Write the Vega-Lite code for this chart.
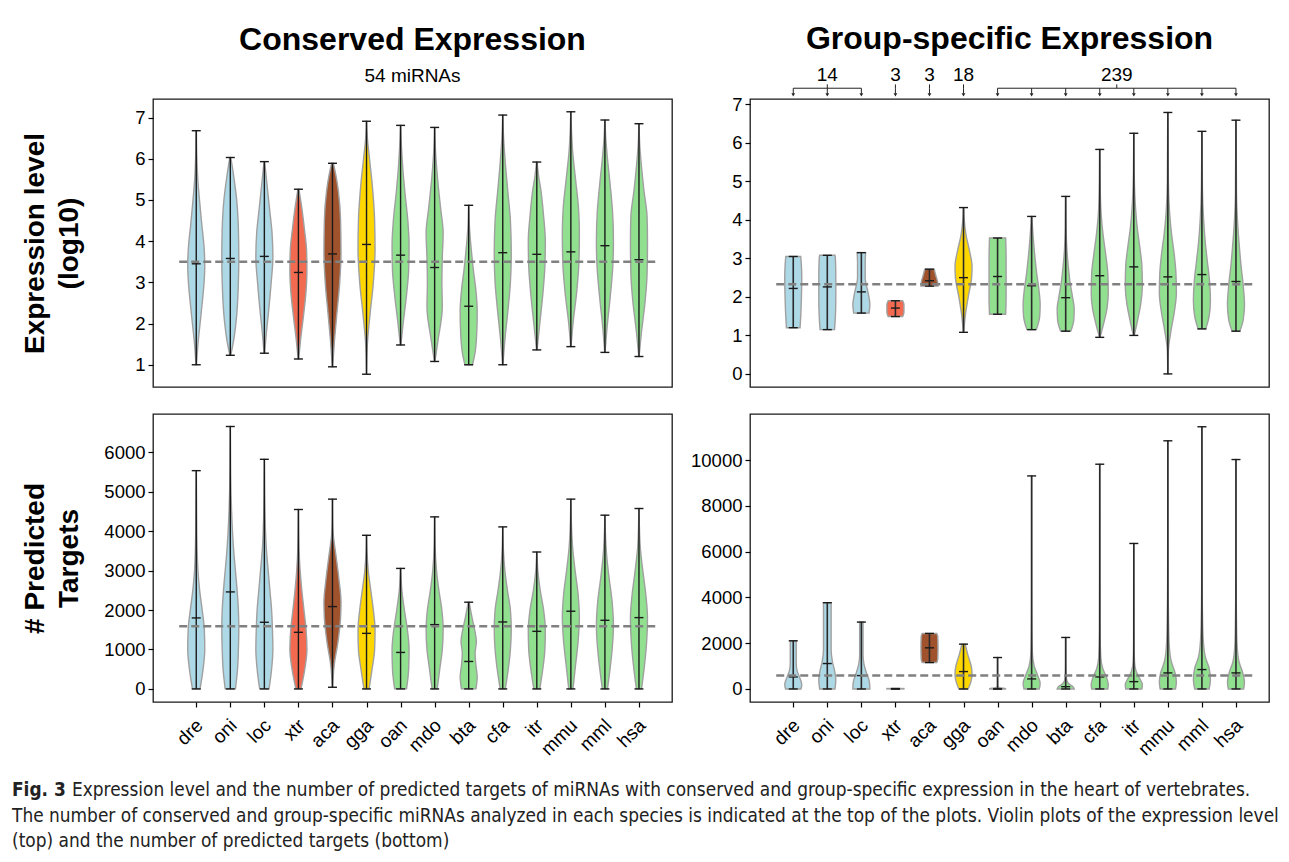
{
"$schema":"https://vega.github.io/schema/vega-lite/v6.json",
"padding":{"left":12,"top":22,"right":5,"bottom":0},
"background":"white",
"config":{
 "view":{"stroke":"#1a1a1a","strokeWidth":1.3},
 "font":"Liberation Sans",
 "axis":{"domain":false,"grid":false,"tickColor":"#000","tickSize":5,"tickWidth":1.2,"labelFont":"Liberation Sans","labelFontSize":18.5,"labelColor":"#000","labelPadding":3},
 "title":{"font":"Liberation Sans","fontSize":32,"fontWeight":"bold","color":"#000","subtitleFont":"Liberation Sans","subtitleFontSize":19,"subtitleColor":"#000","subtitlePadding":10,"offset":12,"anchor":"middle","frame":"group"}
},
"datasets":{
 "ref":[{"p":"TL","m":3.5},{"p":"TR","m":2.33},{"p":"BL","m":1587},{"p":"BR","m":585}],
 "ann":[{"t":"14","a":"dre","b":"loc"},{"t":"3","a":"xtr","b":"xtr"},{"t":"3","a":"aca","b":"aca"},{"t":"18","a":"gga","b":"gga"},{"t":"239","a":"oan","b":"hsa"}],
 "cap":[
  {"k":"b","ln":1,"t":"Fig. 3"},
  {"k":"r","ln":1,"t":"Expression level and the number of predicted targets of miRNAs with conserved and group-specific expression in the heart of vertebrates."},
  {"k":"n","ln":2,"t":"The number of conserved and group-specific miRNAs analyzed in each species is indicated at the top of the plots. Violin plots of the expression level"},
  {"k":"n","ln":3,"t":"(top) and the number of predicted targets (bottom)"}
 ],
 "st":[
  {"p":"TL","s":"dre","lo":1.0,"hi":6.68,"md":3.45},{"p":"TL","s":"oni","lo":1.23,"hi":6.03,"md":3.58},{"p":"TL","s":"loc","lo":1.28,"hi":5.93,"md":3.63},{"p":"TL","s":"xtr","lo":1.14,"hi":5.26,"md":3.24},{"p":"TL","s":"aca","lo":0.95,"hi":5.89,"md":3.69},{"p":"TL","s":"gga","lo":0.77,"hi":6.91,"md":3.92},{"p":"TL","s":"oan","lo":1.48,"hi":6.81,"md":3.66},{"p":"TL","s":"mdo","lo":1.08,"hi":6.76,"md":3.36},{"p":"TL","s":"bta","lo":1.0,"hi":4.87,"md":2.42},{"p":"TL","s":"cfa","lo":1.0,"hi":7.06,"md":3.72},{"p":"TL","s":"itr","lo":1.36,"hi":5.92,"md":3.68},{"p":"TL","s":"mmu","lo":1.44,"hi":7.14,"md":3.74},{"p":"TL","s":"mml","lo":1.3,"hi":6.94,"md":3.89},{"p":"TL","s":"hsa","lo":1.2,"hi":6.85,"md":3.55},
  {"p":"TR","s":"dre","lo":1.2,"hi":3.05,"md":2.22},{"p":"TR","s":"oni","lo":1.15,"hi":3.08,"md":2.26},{"p":"TR","s":"loc","lo":1.58,"hi":3.15,"md":2.13},{"p":"TR","s":"xtr","lo":1.49,"hi":1.9,"md":1.71},{"p":"TR","s":"aca","lo":2.28,"hi":2.72,"md":2.42},{"p":"TR","s":"gga","lo":1.08,"hi":4.32,"md":2.5},{"p":"TR","s":"oan","lo":1.55,"hi":3.53,"md":2.53},{"p":"TR","s":"mdo","lo":1.15,"hi":4.09,"md":2.29},{"p":"TR","s":"bta","lo":1.11,"hi":4.61,"md":1.98},{"p":"TR","s":"cfa","lo":0.95,"hi":5.83,"md":2.55},{"p":"TR","s":"itr","lo":1.0,"hi":6.25,"md":2.78},{"p":"TR","s":"mmu","lo":0.0,"hi":6.79,"md":2.52},{"p":"TR","s":"mml","lo":1.17,"hi":6.3,"md":2.58},{"p":"TR","s":"hsa","lo":1.11,"hi":6.59,"md":2.4},
  {"p":"BL","s":"dre","lo":0,"hi":5535,"md":1800},{"p":"BL","s":"oni","lo":0,"hi":6655,"md":2460},{"p":"BL","s":"loc","lo":0,"hi":5823,"md":1690},{"p":"BL","s":"xtr","lo":0,"hi":4550,"md":1435},{"p":"BL","s":"aca","lo":42,"hi":4813,"md":2088},{"p":"BL","s":"gga","lo":0,"hi":3896,"md":1409},{"p":"BL","s":"oan","lo":0,"hi":3056,"md":925},{"p":"BL","s":"mdo","lo":0,"hi":4363,"md":1630},{"p":"BL","s":"bta","lo":0,"hi":2199,"md":696},{"p":"BL","s":"cfa","lo":0,"hi":4109,"md":1698},{"p":"BL","s":"itr","lo":0,"hi":3472,"md":1460},{"p":"BL","s":"mmu","lo":0,"hi":4813,"md":1970},{"p":"BL","s":"mml","lo":0,"hi":4406,"md":1740},{"p":"BL","s":"hsa","lo":0,"hi":4575,"md":1808},
  {"p":"BR","s":"dre","lo":0,"hi":2105,"md":526},{"p":"BR","s":"oni","lo":0,"hi":3772,"md":1111},{"p":"BR","s":"loc","lo":0,"hi":2924,"md":585},{"p":"BR","s":"xtr","lo":0,"hi":20,"md":0},{"p":"BR","s":"aca","lo":1155,"hi":2427,"md":1798},{"p":"BR","s":"gga","lo":0,"hi":1959,"md":760},{"p":"BR","s":"oan","lo":0,"hi":1374,"md":0},{"p":"BR","s":"mdo","lo":0,"hi":9313,"md":439},{"p":"BR","s":"bta","lo":0,"hi":2251,"md":100},{"p":"BR","s":"cfa","lo":0,"hi":9825,"md":526},{"p":"BR","s":"itr","lo":0,"hi":6360,"md":320},{"p":"BR","s":"mmu","lo":0,"hi":10848,"md":702},{"p":"BR","s":"mml","lo":0,"hi":11462,"md":848},{"p":"BR","s":"hsa","lo":0,"hi":10029,"md":702}
 ],
 "vio":[
  {"p":"TL","s":"dre","y":[1.0,1.5,2.0,2.5,3.0,3.4,3.9,4.4,5.0,5.5,6.1,6.68],"w":[0.03,0.2,0.45,0.7,0.92,1.0,0.9,0.65,0.38,0.18,0.06,0.02]},
  {"p":"TL","s":"oni","y":[1.23,1.6,2.2,3.0,3.6,4.3,5.0,5.5,5.85,6.03],"w":[0.05,0.4,0.75,0.95,1.0,0.95,0.75,0.45,0.2,0.05]},
  {"p":"TL","s":"loc","y":[1.28,1.7,2.3,3.0,3.6,4.2,4.8,5.4,5.93],"w":[0.03,0.2,0.5,0.8,1.0,0.9,0.6,0.3,0.03]},
  {"p":"TL","s":"xtr","y":[1.14,1.6,2.2,2.8,3.3,3.8,4.3,4.8,5.26],"w":[0.03,0.25,0.6,0.9,1.0,0.95,0.7,0.4,0.05]},
  {"p":"TL","s":"aca","y":[0.95,1.5,2.2,3.0,3.7,4.5,5.2,5.6,5.89],"w":[0.02,0.2,0.5,0.85,1.0,0.95,0.7,0.4,0.1]},
  {"p":"TL","s":"gga","y":[0.77,1.5,2.2,3.0,3.8,4.5,5.3,6.0,6.5,6.91],"w":[0.01,0.1,0.4,0.8,1.0,0.95,0.7,0.35,0.1,0.01]},
  {"p":"TL","s":"oan","y":[1.48,2.0,2.7,3.3,3.9,4.5,5.2,5.8,6.3,6.81],"w":[0.03,0.3,0.7,0.95,1.0,0.85,0.5,0.25,0.1,0.01]},
  {"p":"TL","s":"mdo","y":[1.08,1.6,2.4,3.0,3.6,4.2,4.8,5.5,6.2,6.76],"w":[0.03,0.4,0.9,0.85,0.9,1.0,0.7,0.35,0.1,0.01]},
  {"p":"TL","s":"bta","y":[1.0,1.3,1.8,2.3,2.8,3.3,3.8,4.3,4.87],"w":[0.45,0.75,0.95,1.0,0.85,0.55,0.3,0.1,0.02]},
  {"p":"TL","s":"cfa","y":[1.0,1.6,2.3,3.0,3.7,4.5,5.2,5.9,6.5,7.06],"w":[0.02,0.25,0.6,0.9,1.0,0.9,0.6,0.3,0.1,0.01]},
  {"p":"TL","s":"itr","y":[1.36,2.0,2.7,3.4,4.0,4.6,5.2,5.6,5.92],"w":[0.03,0.35,0.7,0.95,1.0,0.8,0.5,0.2,0.03]},
  {"p":"TL","s":"mmu","y":[1.44,2.0,2.8,3.5,4.2,4.8,5.5,6.2,6.7,7.14],"w":[0.02,0.25,0.7,0.95,1.0,0.9,0.55,0.2,0.07,0.01]},
  {"p":"TL","s":"mml","y":[1.3,1.9,2.6,3.3,4.0,4.7,5.4,6.0,6.5,6.94],"w":[0.02,0.25,0.6,0.9,1.0,0.9,0.6,0.3,0.1,0.01]},
  {"p":"TL","s":"hsa","y":[1.2,1.8,2.5,3.2,4.0,4.6,5.2,5.8,6.3,6.85],"w":[0.02,0.3,0.7,0.95,1.0,0.95,0.6,0.3,0.1,0.01]},
  {"p":"TR","s":"dre","y":[1.2,1.5,2.0,2.5,2.8,3.05],"w":[0.8,0.88,0.96,1.0,0.96,0.88]},
  {"p":"TR","s":"oni","y":[1.15,1.5,2.0,2.5,3.0,3.08],"w":[0.85,0.95,1.0,1.0,0.95,0.9]},
  {"p":"TR","s":"loc","y":[1.58,1.8,2.1,2.5,2.9,3.15],"w":[0.9,1.0,0.8,0.45,0.45,0.5]},
  {"p":"TR","s":"xtr","y":[1.49,1.6,1.8,1.9],"w":[0.85,1.0,1.0,0.85]},
  {"p":"TR","s":"aca","y":[2.28,2.4,2.55,2.72],"w":[1.0,0.95,0.75,0.55]},
  {"p":"TR","s":"gga","y":[1.08,1.5,2.0,2.5,2.8,3.2,3.6,4.0,4.32],"w":[0.03,0.2,0.55,0.95,1.0,0.7,0.3,0.08,0.02]},
  {"p":"TR","s":"oan","y":[1.55,2.0,2.5,3.0,3.53],"w":[0.95,1.0,1.0,1.0,0.95]},
  {"p":"TR","s":"mdo","y":[1.15,1.5,1.8,2.2,2.6,3.0,3.5,4.09],"w":[0.55,0.95,1.0,0.85,0.6,0.4,0.2,0.02]},
  {"p":"TR","s":"bta","y":[1.11,1.4,1.7,2.0,2.4,2.8,3.2,3.8,4.61],"w":[0.6,0.95,1.0,0.8,0.5,0.3,0.15,0.04,0.01]},
  {"p":"TR","s":"cfa","y":[0.95,1.3,1.7,2.1,2.6,3.1,3.6,4.2,5.0,5.83],"w":[0.03,0.45,0.85,1.0,0.95,0.7,0.4,0.15,0.04,0.01]},
  {"p":"TR","s":"itr","y":[1.0,1.4,1.8,2.3,2.8,3.3,3.8,4.5,5.3,6.25],"w":[0.05,0.45,0.8,1.0,0.95,0.7,0.4,0.15,0.04,0.01]},
  {"p":"TR","s":"mmu","y":[0.0,0.6,1.1,1.6,2.1,2.6,3.1,3.6,4.2,5.0,6.79],"w":[0.01,0.06,0.35,0.75,1.0,0.95,0.75,0.45,0.2,0.06,0.01]},
  {"p":"TR","s":"mml","y":[1.17,1.5,1.9,2.4,2.9,3.4,4.0,4.8,6.3],"w":[0.45,0.85,1.0,0.9,0.65,0.4,0.2,0.06,0.01]},
  {"p":"TR","s":"hsa","y":[1.11,1.4,1.8,2.3,2.8,3.3,3.9,4.7,6.59],"w":[0.45,0.85,1.0,0.85,0.6,0.4,0.2,0.06,0.01]},
  {"p":"BL","s":"dre","y":[0,500,1000,1500,2000,2500,3000,4000,5535],"w":[0.45,0.8,1.0,0.95,0.7,0.4,0.2,0.06,0.01]},
  {"p":"BL","s":"oni","y":[0,500,1000,1500,2000,2500,3000,3500,4500,5500,6655],"w":[0.6,0.85,0.95,1.0,0.95,0.8,0.6,0.4,0.15,0.04,0.01]},
  {"p":"BL","s":"loc","y":[0,500,1000,1500,2000,2500,3000,3500,4500,5823],"w":[0.55,0.85,1.0,0.95,0.85,0.65,0.45,0.25,0.07,0.01]},
  {"p":"BL","s":"xtr","y":[0,500,1000,1500,2000,2500,3000,3500,4550],"w":[0.3,0.75,1.0,0.9,0.65,0.4,0.2,0.08,0.01]},
  {"p":"BL","s":"aca","y":[42,600,1200,1800,2200,2800,3400,3900,4300,4813],"w":[0.02,0.2,0.65,0.95,1.0,0.75,0.4,0.1,0.03,0.01]},
  {"p":"BL","s":"gga","y":[0,500,1000,1500,2000,2500,3000,3500,3896],"w":[0.3,0.65,0.95,1.0,0.8,0.5,0.2,0.05,0.01]},
  {"p":"BL","s":"oan","y":[0,500,1000,1500,2000,2500,3056],"w":[0.7,0.95,1.0,0.8,0.45,0.15,0.02]},
  {"p":"BL","s":"mdo","y":[0,500,1000,1500,2000,2500,3000,3600,4363],"w":[0.3,0.6,0.9,1.0,0.85,0.5,0.22,0.06,0.01]},
  {"p":"BL","s":"bta","y":[0,300,600,900,1200,1500,1800,2199],"w":[0.85,1.0,0.85,0.75,0.9,0.7,0.4,0.05]},
  {"p":"BL","s":"cfa","y":[0,500,1000,1500,2000,2500,3000,3500,4109],"w":[0.3,0.65,0.9,1.0,0.9,0.55,0.25,0.08,0.01]},
  {"p":"BL","s":"itr","y":[0,500,1000,1500,2000,2500,3000,3472],"w":[0.35,0.7,0.95,1.0,0.8,0.4,0.12,0.01]},
  {"p":"BL","s":"mmu","y":[0,600,1200,1800,2400,3000,3600,4200,4813],"w":[0.25,0.55,0.85,1.0,0.85,0.5,0.2,0.06,0.01]},
  {"p":"BL","s":"mml","y":[0,500,1000,1600,2200,2800,3400,4000,4406],"w":[0.3,0.6,0.85,1.0,0.85,0.5,0.2,0.05,0.01]},
  {"p":"BL","s":"hsa","y":[0,600,1200,1800,2400,3000,3600,4200,4575],"w":[0.3,0.65,0.9,1.0,0.8,0.45,0.15,0.04,0.01]},
  {"p":"BR","s":"dre","y":[0,200,500,800,1100,1500,2105],"w":[0.9,1.0,0.75,0.45,0.35,0.35,0.35]},
  {"p":"BR","s":"oni","y":[0,400,800,1200,1700,2500,3300,3772],"w":[0.9,1.0,0.85,0.6,0.45,0.45,0.45,0.45]},
  {"p":"BR","s":"loc","y":[0,300,700,1100,1500,2000,2924],"w":[1.0,0.95,0.6,0.3,0.2,0.2,0.2]},
  {"p":"BR","s":"xtr","y":[0,20],"w":[1.0,1.0]},
  {"p":"BR","s":"aca","y":[1155,1300,1800,2300,2427],"w":[0.85,0.97,1.0,0.97,0.85]},
  {"p":"BR","s":"gga","y":[0,300,600,900,1200,1500,1800,1959],"w":[0.55,0.85,1.0,0.95,0.75,0.5,0.3,0.2]},
  {"p":"BR","s":"oan","y":[0,30,80,150,1374],"w":[1.0,0.7,0.1,0.02,0.01]},
  {"p":"BR","s":"mdo","y":[0,250,600,1000,1500,2500,4000,9313],"w":[0.9,1.0,0.7,0.3,0.1,0.04,0.02,0.01]},
  {"p":"BR","s":"bta","y":[0,100,200,350,600,1000,2251],"w":[1.0,0.85,0.45,0.15,0.05,0.02,0.01]},
  {"p":"BR","s":"cfa","y":[0,200,500,900,1400,2500,5000,9825],"w":[0.95,1.0,0.8,0.35,0.12,0.04,0.02,0.01]},
  {"p":"BR","s":"itr","y":[0,200,450,800,1200,2000,6360],"w":[0.95,1.0,0.7,0.25,0.08,0.03,0.01]},
  {"p":"BR","s":"mmu","y":[0,300,700,1200,2000,3000,4000,6000,10848],"w":[0.9,1.0,0.85,0.4,0.15,0.08,0.04,0.02,0.01]},
  {"p":"BR","s":"mml","y":[0,400,900,1400,2200,3200,4500,7000,11462],"w":[0.85,1.0,0.85,0.4,0.15,0.07,0.03,0.015,0.01]},
  {"p":"BR","s":"hsa","y":[0,300,700,1200,2000,3000,4000,6000,10029],"w":[0.9,1.0,0.8,0.35,0.12,0.06,0.03,0.015,0.01]}
 ]
},
"vconcat":[
 {"vconcat":[
  {"hconcat":[
   {"width":519,"height":288,
    "title":{"text":"Conserved Expression","subtitle":"54 miRNAs"},
    "layer":[
     {"data":{"name":"vio"},"transform":[{"filter":"datum.p=='TL'"},{"flatten":["y","w"]},{"calculate":"indexof(['dre','oni','loc','xtr','aca','gga','oan','mdo','bta','cfa','itr','mmu','mml','hsa'],datum.s)","as":"i"},{"calculate":"datum.i-0.25*datum.w","as":"xl"},{"calculate":"datum.i+0.25*datum.w","as":"xr"}],
      "mark":{"type":"area","orient":"horizontal","interpolate":"monotone","stroke":"#a0a0a0","strokeWidth":1.4,"opacity":1},
      "encoding":{
       "y":{"field":"y","type":"quantitative","scale":{"domain":[0.46,7.45],"nice":false,"zero":false},"axis":{"values":[1,2,3,4,5,6,7],"format":"d","title":["Expression level","(log10)"],"titleFont":"Liberation Sans","titleFontSize":28,"titleFontWeight":"bold","titleColor":"#000","titleLineHeight":34,"titlePadding":20,"minExtent":50,"maxExtent":50}},
       "x":{"field":"xl","type":"quantitative","scale":{"domain":[-1.27,13.97],"nice":false,"zero":false},"axis":null},
       "x2":{"field":"xr"},
       "color":{"field":"s","type":"nominal","scale":{"domain":["dre","oni","loc","xtr","aca","gga","oan","mdo","bta","cfa","itr","mmu","mml","hsa"],"range":["#add8e6","#add8e6","#add8e6","#f26b50","#a0522d","#ffd700","#90e090","#90e090","#90e090","#90e090","#90e090","#90e090","#90e090","#90e090"]},"legend":null}
      }},
     {"data":{"name":"st"},"transform":[{"filter":"datum.p=='TL'"},{"calculate":"indexof(['dre','oni','loc','xtr','aca','gga','oan','mdo','bta','cfa','itr','mmu','mml','hsa'],datum.s)","as":"i"}],
      "mark":{"type":"rule","color":"#1a1a1a","strokeWidth":1.4},
      "encoding":{"x":{"field":"i","type":"quantitative","scale":{"domain":[-1.27,13.97],"nice":false,"zero":false},"axis":null},"y":{"field":"lo","type":"quantitative","scale":{"domain":[0.46,7.45],"nice":false,"zero":false},"axis":{"values":[1,2,3,4,5,6,7],"format":"d","title":["Expression level","(log10)"],"titleFont":"Liberation Sans","titleFontSize":28,"titleFontWeight":"bold","titleColor":"#000","titleLineHeight":34,"titlePadding":20,"minExtent":50,"maxExtent":50}},"y2":{"field":"hi"}}},
     {"data":{"name":"st"},"transform":[{"filter":"datum.p=='TL'"},{"calculate":"indexof(['dre','oni','loc','xtr','aca','gga','oan','mdo','bta','cfa','itr','mmu','mml','hsa'],datum.s)","as":"i"},{"fold":["lo","hi","md"],"as":["k","v"]}],
      "mark":{"type":"tick","orient":"horizontal","color":"#1a1a1a","thickness":1.4,"size":9,"opacity":1},
      "encoding":{"x":{"field":"i","type":"quantitative","scale":{"domain":[-1.27,13.97],"nice":false,"zero":false},"axis":null},"y":{"field":"v","type":"quantitative","scale":{"domain":[0.46,7.45],"nice":false,"zero":false},"axis":{"values":[1,2,3,4,5,6,7],"format":"d","title":["Expression level","(log10)"],"titleFont":"Liberation Sans","titleFontSize":28,"titleFontWeight":"bold","titleColor":"#000","titleLineHeight":34,"titlePadding":20,"minExtent":50,"maxExtent":50}}}},
     {"data":{"name":"ref"},"transform":[{"filter":"datum.p=='TL'"}],
      "mark":{"type":"rule","color":"#808080","strokeWidth":2.5,"strokeDash":[8,4]},
      "encoding":{"x":{"datum":-0.5,"type":"quantitative","scale":{"domain":[-1.27,13.97],"nice":false,"zero":false},"axis":null},"x2":{"datum":13.5},"y":{"field":"m","type":"quantitative","scale":{"domain":[0.46,7.45],"nice":false,"zero":false},"axis":{"values":[1,2,3,4,5,6,7],"format":"d","title":["Expression level","(log10)"],"titleFont":"Liberation Sans","titleFontSize":28,"titleFontWeight":"bold","titleColor":"#000","titleLineHeight":34,"titlePadding":20,"minExtent":50,"maxExtent":50}}}}
    ]},
   {"width":519,"height":288,
    "title":{"text":"Group-specific Expression","offset":10},
    "layer":[
     {"data":{"name":"vio"},"transform":[{"filter":"datum.p=='TR'"},{"flatten":["y","w"]},{"calculate":"indexof(['dre','oni','loc','xtr','aca','gga','oan','mdo','bta','cfa','itr','mmu','mml','hsa'],datum.s)","as":"i"},{"calculate":"datum.i-0.25*datum.w","as":"xl"},{"calculate":"datum.i+0.25*datum.w","as":"xr"}],
      "mark":{"type":"area","orient":"horizontal","interpolate":"monotone","stroke":"#a0a0a0","strokeWidth":1.4,"opacity":1},
      "encoding":{
       "y":{"field":"y","type":"quantitative","scale":{"domain":[-0.34,7.14],"nice":false,"zero":false},"axis":{"values":[0,1,2,3,4,5,6,7],"format":"d","title":null,"minExtent":60,"maxExtent":60}},
       "x":{"field":"xl","type":"quantitative","scale":{"domain":[-1.27,13.97],"nice":false,"zero":false},"axis":null},
       "x2":{"field":"xr"},
       "color":{"field":"s","type":"nominal","scale":{"domain":["dre","oni","loc","xtr","aca","gga","oan","mdo","bta","cfa","itr","mmu","mml","hsa"],"range":["#add8e6","#add8e6","#add8e6","#f26b50","#a0522d","#ffd700","#90e090","#90e090","#90e090","#90e090","#90e090","#90e090","#90e090","#90e090"]},"legend":null}
      }},
     {"data":{"name":"st"},"transform":[{"filter":"datum.p=='TR'"},{"calculate":"indexof(['dre','oni','loc','xtr','aca','gga','oan','mdo','bta','cfa','itr','mmu','mml','hsa'],datum.s)","as":"i"}],
      "mark":{"type":"rule","color":"#2a2a2a","strokeWidth":1.6},
      "encoding":{"x":{"field":"i","type":"quantitative","scale":{"domain":[-1.27,13.97],"nice":false,"zero":false},"axis":null},"y":{"field":"lo","type":"quantitative","scale":{"domain":[-0.34,7.14],"nice":false,"zero":false},"axis":{"values":[0,1,2,3,4,5,6,7],"format":"d","title":null,"minExtent":60,"maxExtent":60}},"y2":{"field":"hi"}}},
     {"data":{"name":"st"},"transform":[{"filter":"datum.p=='TR'"},{"calculate":"indexof(['dre','oni','loc','xtr','aca','gga','oan','mdo','bta','cfa','itr','mmu','mml','hsa'],datum.s)","as":"i"},{"fold":["lo","hi","md"],"as":["k","v"]}],
      "mark":{"type":"tick","orient":"horizontal","color":"#1a1a1a","thickness":1.4,"size":9,"opacity":1},
      "encoding":{"x":{"field":"i","type":"quantitative","scale":{"domain":[-1.27,13.97],"nice":false,"zero":false},"axis":null},"y":{"field":"v","type":"quantitative","scale":{"domain":[-0.34,7.14],"nice":false,"zero":false},"axis":{"values":[0,1,2,3,4,5,6,7],"format":"d","title":null,"minExtent":60,"maxExtent":60}}}},
     {"data":{"name":"ref"},"transform":[{"filter":"datum.p=='TR'"}],
      "mark":{"type":"rule","color":"#808080","strokeWidth":2.5,"strokeDash":[8,4]},
      "encoding":{"x":{"datum":-0.5,"type":"quantitative","scale":{"domain":[-1.27,13.97],"nice":false,"zero":false},"axis":null},"x2":{"datum":13.5},"y":{"field":"m","type":"quantitative","scale":{"domain":[-0.34,7.14],"nice":false,"zero":false},"axis":{"values":[0,1,2,3,4,5,6,7],"format":"d","title":null,"minExtent":60,"maxExtent":60}}}},
     {"data":{"name":"ann"},"transform":[{"calculate":"indexof(['dre','oni','loc','xtr','aca','gga','oan','mdo','bta','cfa','itr','mmu','mml','hsa'],datum.a)","as":"ia"},{"calculate":"indexof(['dre','oni','loc','xtr','aca','gga','oan','mdo','bta','cfa','itr','mmu','mml','hsa'],datum.b)","as":"ib"},{"calculate":"(datum.ia+datum.ib)/2","as":"ic"}],
      "layer":[
       {"mark":{"type":"text","fontSize":19,"font":"Liberation Sans","baseline":"middle","align":"center","color":"#000"},
        "encoding":{"x":{"field":"ic","type":"quantitative","scale":{"domain":[-1.27,13.97],"nice":false,"zero":false},"axis":null},"y":{"datum":7.76,"type":"quantitative","scale":{"domain":[-0.34,7.14],"nice":false,"zero":false},"axis":{"values":[0,1,2,3,4,5,6,7],"format":"d","title":null,"minExtent":60,"maxExtent":60}},"text":{"field":"t"}}},
       {"mark":{"type":"rule","color":"#222","strokeWidth":1},
        "encoding":{"x":{"field":"ia","type":"quantitative","scale":{"domain":[-1.27,13.97],"nice":false,"zero":false},"axis":null},"x2":{"field":"ib"},"y":{"datum":7.42,"type":"quantitative","scale":{"domain":[-0.34,7.14],"nice":false,"zero":false},"axis":{"values":[0,1,2,3,4,5,6,7],"format":"d","title":null,"minExtent":60,"maxExtent":60}}}},
       {"mark":{"type":"rule","color":"#222","strokeWidth":1},
        "encoding":{"x":{"field":"ic","type":"quantitative","scale":{"domain":[-1.27,13.97],"nice":false,"zero":false},"axis":null},"y":{"datum":7.52,"type":"quantitative","scale":{"domain":[-0.34,7.14],"nice":false,"zero":false},"axis":{"values":[0,1,2,3,4,5,6,7],"format":"d","title":null,"minExtent":60,"maxExtent":60}},"y2":{"datum":7.42}}}
      ]},
     {"data":{"name":"st"},"transform":[{"filter":"datum.p=='TR'"},{"calculate":"indexof(['dre','oni','loc','xtr','aca','gga','oan','mdo','bta','cfa','itr','mmu','mml','hsa'],datum.s)","as":"i"}],
      "layer":[
       {"mark":{"type":"rule","color":"#222","strokeWidth":1},
        "encoding":{"x":{"field":"i","type":"quantitative","scale":{"domain":[-1.27,13.97],"nice":false,"zero":false},"axis":null},"y":{"datum":7.42,"type":"quantitative","scale":{"domain":[-0.34,7.14],"nice":false,"zero":false},"axis":{"values":[0,1,2,3,4,5,6,7],"format":"d","title":null,"minExtent":60,"maxExtent":60}},"y2":{"datum":7.28}}},
       {"mark":{"type":"point","shape":"triangle-down","filled":true,"size":14,"color":"#222","opacity":1},
        "encoding":{"x":{"field":"i","type":"quantitative","scale":{"domain":[-1.27,13.97],"nice":false,"zero":false},"axis":null},"y":{"datum":7.25,"type":"quantitative","scale":{"domain":[-0.34,7.14],"nice":false,"zero":false},"axis":{"values":[0,1,2,3,4,5,6,7],"format":"d","title":null,"minExtent":60,"maxExtent":60}}}}
      ]}
    ]}
  ],"spacing":16},
  {"hconcat":[
   {"width":519,"height":288,
    "layer":[
     {"data":{"name":"vio"},"transform":[{"filter":"datum.p=='BL'"},{"flatten":["y","w"]},{"calculate":"indexof(['dre','oni','loc','xtr','aca','gga','oan','mdo','bta','cfa','itr','mmu','mml','hsa'],datum.s)","as":"i"},{"calculate":"datum.i-0.25*datum.w","as":"xl"},{"calculate":"datum.i+0.25*datum.w","as":"xr"}],
      "mark":{"type":"area","orient":"horizontal","interpolate":"monotone","stroke":"#a0a0a0","strokeWidth":1.4,"opacity":1},
      "encoding":{
       "y":{"field":"y","type":"quantitative","scale":{"domain":[-332,6972],"nice":false,"zero":false},"axis":{"values":[0,1000,2000,3000,4000,5000,6000],"format":"d","title":["# Predicted","Targets"],"titleFont":"Liberation Sans","titleFontSize":28,"titleFontWeight":"bold","titleColor":"#000","titleLineHeight":34,"titlePadding":20,"minExtent":50,"maxExtent":50}},
       "x":{"field":"xl","type":"quantitative","scale":{"domain":[-1.27,13.97],"nice":false,"zero":false},"axis":{"values":[0,1,2,3,4,5,6,7,8,9,10,11,12,13],"labelExpr":"['dre','oni','loc','xtr','aca','gga','oan','mdo','bta','cfa','itr','mmu','mml','hsa'][datum.value]","labelAngle":-45,"labelAlign":"right","labelBaseline":"middle","labelPadding":15,"labelOffset":3,"labelFontSize":19,"title":null,"labelOverlap":false,"labelBound":false,"labelFlush":false}},
       "x2":{"field":"xr"},
       "color":{"field":"s","type":"nominal","scale":{"domain":["dre","oni","loc","xtr","aca","gga","oan","mdo","bta","cfa","itr","mmu","mml","hsa"],"range":["#add8e6","#add8e6","#add8e6","#f26b50","#a0522d","#ffd700","#90e090","#90e090","#90e090","#90e090","#90e090","#90e090","#90e090","#90e090"]},"legend":null}
      }},
     {"data":{"name":"st"},"transform":[{"filter":"datum.p=='BL'"},{"calculate":"indexof(['dre','oni','loc','xtr','aca','gga','oan','mdo','bta','cfa','itr','mmu','mml','hsa'],datum.s)","as":"i"}],
      "mark":{"type":"rule","color":"#1a1a1a","strokeWidth":1.4},
      "encoding":{"x":{"field":"i","type":"quantitative","scale":{"domain":[-1.27,13.97],"nice":false,"zero":false},"axis":{"values":[0,1,2,3,4,5,6,7,8,9,10,11,12,13],"labelExpr":"['dre','oni','loc','xtr','aca','gga','oan','mdo','bta','cfa','itr','mmu','mml','hsa'][datum.value]","labelAngle":-45,"labelAlign":"right","labelBaseline":"middle","labelPadding":15,"labelOffset":3,"labelFontSize":19,"title":null,"labelOverlap":false,"labelBound":false,"labelFlush":false}},"y":{"field":"lo","type":"quantitative","scale":{"domain":[-332,6972],"nice":false,"zero":false},"axis":{"values":[0,1000,2000,3000,4000,5000,6000],"format":"d","title":["# Predicted","Targets"],"titleFont":"Liberation Sans","titleFontSize":28,"titleFontWeight":"bold","titleColor":"#000","titleLineHeight":34,"titlePadding":20,"minExtent":50,"maxExtent":50}},"y2":{"field":"hi"}}},
     {"data":{"name":"st"},"transform":[{"filter":"datum.p=='BL'"},{"calculate":"indexof(['dre','oni','loc','xtr','aca','gga','oan','mdo','bta','cfa','itr','mmu','mml','hsa'],datum.s)","as":"i"},{"fold":["lo","hi","md"],"as":["k","v"]}],
      "mark":{"type":"tick","orient":"horizontal","color":"#1a1a1a","thickness":1.4,"size":9,"opacity":1},
      "encoding":{"x":{"field":"i","type":"quantitative","scale":{"domain":[-1.27,13.97],"nice":false,"zero":false},"axis":{"values":[0,1,2,3,4,5,6,7,8,9,10,11,12,13],"labelExpr":"['dre','oni','loc','xtr','aca','gga','oan','mdo','bta','cfa','itr','mmu','mml','hsa'][datum.value]","labelAngle":-45,"labelAlign":"right","labelBaseline":"middle","labelPadding":15,"labelOffset":3,"labelFontSize":19,"title":null,"labelOverlap":false,"labelBound":false,"labelFlush":false}},"y":{"field":"v","type":"quantitative","scale":{"domain":[-332,6972],"nice":false,"zero":false},"axis":{"values":[0,1000,2000,3000,4000,5000,6000],"format":"d","title":["# Predicted","Targets"],"titleFont":"Liberation Sans","titleFontSize":28,"titleFontWeight":"bold","titleColor":"#000","titleLineHeight":34,"titlePadding":20,"minExtent":50,"maxExtent":50}}}},
     {"data":{"name":"ref"},"transform":[{"filter":"datum.p=='BL'"}],
      "mark":{"type":"rule","color":"#808080","strokeWidth":2.5,"strokeDash":[8,4]},
      "encoding":{"x":{"datum":-0.5,"type":"quantitative","scale":{"domain":[-1.27,13.97],"nice":false,"zero":false},"axis":{"values":[0,1,2,3,4,5,6,7,8,9,10,11,12,13],"labelExpr":"['dre','oni','loc','xtr','aca','gga','oan','mdo','bta','cfa','itr','mmu','mml','hsa'][datum.value]","labelAngle":-45,"labelAlign":"right","labelBaseline":"middle","labelPadding":15,"labelOffset":3,"labelFontSize":19,"title":null,"labelOverlap":false,"labelBound":false,"labelFlush":false}},"x2":{"datum":13.5},"y":{"field":"m","type":"quantitative","scale":{"domain":[-332,6972],"nice":false,"zero":false},"axis":{"values":[0,1000,2000,3000,4000,5000,6000],"format":"d","title":["# Predicted","Targets"],"titleFont":"Liberation Sans","titleFontSize":28,"titleFontWeight":"bold","titleColor":"#000","titleLineHeight":34,"titlePadding":20,"minExtent":50,"maxExtent":50}}}}
    ]},
   {"width":519,"height":288,
    "layer":[
     {"data":{"name":"vio"},"transform":[{"filter":"datum.p=='BR'"},{"flatten":["y","w"]},{"calculate":"indexof(['dre','oni','loc','xtr','aca','gga','oan','mdo','bta','cfa','itr','mmu','mml','hsa'],datum.s)","as":"i"},{"calculate":"datum.i-0.25*datum.w","as":"xl"},{"calculate":"datum.i+0.25*datum.w","as":"xr"}],
      "mark":{"type":"area","orient":"horizontal","interpolate":"monotone","stroke":"#a0a0a0","strokeWidth":1.4,"opacity":1},
      "encoding":{
       "y":{"field":"y","type":"quantitative","scale":{"domain":[-570,12020],"nice":false,"zero":false},"axis":{"values":[0,2000,4000,6000,8000,10000],"format":"d","title":null,"minExtent":60,"maxExtent":60}},
       "x":{"field":"xl","type":"quantitative","scale":{"domain":[-1.27,13.97],"nice":false,"zero":false},"axis":{"values":[0,1,2,3,4,5,6,7,8,9,10,11,12,13],"labelExpr":"['dre','oni','loc','xtr','aca','gga','oan','mdo','bta','cfa','itr','mmu','mml','hsa'][datum.value]","labelAngle":-45,"labelAlign":"right","labelBaseline":"middle","labelPadding":15,"labelOffset":3,"labelFontSize":19,"title":null,"labelOverlap":false,"labelBound":false,"labelFlush":false}},
       "x2":{"field":"xr"},
       "color":{"field":"s","type":"nominal","scale":{"domain":["dre","oni","loc","xtr","aca","gga","oan","mdo","bta","cfa","itr","mmu","mml","hsa"],"range":["#add8e6","#add8e6","#add8e6","#f26b50","#a0522d","#ffd700","#90e090","#90e090","#90e090","#90e090","#90e090","#90e090","#90e090","#90e090"]},"legend":null}
      }},
     {"data":{"name":"st"},"transform":[{"filter":"datum.p=='BR'"},{"calculate":"indexof(['dre','oni','loc','xtr','aca','gga','oan','mdo','bta','cfa','itr','mmu','mml','hsa'],datum.s)","as":"i"}],
      "mark":{"type":"rule","color":"#2a2a2a","strokeWidth":1.6},
      "encoding":{"x":{"field":"i","type":"quantitative","scale":{"domain":[-1.27,13.97],"nice":false,"zero":false},"axis":{"values":[0,1,2,3,4,5,6,7,8,9,10,11,12,13],"labelExpr":"['dre','oni','loc','xtr','aca','gga','oan','mdo','bta','cfa','itr','mmu','mml','hsa'][datum.value]","labelAngle":-45,"labelAlign":"right","labelBaseline":"middle","labelPadding":15,"labelOffset":3,"labelFontSize":19,"title":null,"labelOverlap":false,"labelBound":false,"labelFlush":false}},"y":{"field":"lo","type":"quantitative","scale":{"domain":[-570,12020],"nice":false,"zero":false},"axis":{"values":[0,2000,4000,6000,8000,10000],"format":"d","title":null,"minExtent":60,"maxExtent":60}},"y2":{"field":"hi"}}},
     {"data":{"name":"st"},"transform":[{"filter":"datum.p=='BR'"},{"calculate":"indexof(['dre','oni','loc','xtr','aca','gga','oan','mdo','bta','cfa','itr','mmu','mml','hsa'],datum.s)","as":"i"},{"fold":["lo","hi","md"],"as":["k","v"]}],
      "mark":{"type":"tick","orient":"horizontal","color":"#1a1a1a","thickness":1.4,"size":9,"opacity":1},
      "encoding":{"x":{"field":"i","type":"quantitative","scale":{"domain":[-1.27,13.97],"nice":false,"zero":false},"axis":{"values":[0,1,2,3,4,5,6,7,8,9,10,11,12,13],"labelExpr":"['dre','oni','loc','xtr','aca','gga','oan','mdo','bta','cfa','itr','mmu','mml','hsa'][datum.value]","labelAngle":-45,"labelAlign":"right","labelBaseline":"middle","labelPadding":15,"labelOffset":3,"labelFontSize":19,"title":null,"labelOverlap":false,"labelBound":false,"labelFlush":false}},"y":{"field":"v","type":"quantitative","scale":{"domain":[-570,12020],"nice":false,"zero":false},"axis":{"values":[0,2000,4000,6000,8000,10000],"format":"d","title":null,"minExtent":60,"maxExtent":60}}}},
     {"data":{"name":"ref"},"transform":[{"filter":"datum.p=='BR'"}],
      "mark":{"type":"rule","color":"#808080","strokeWidth":2.5,"strokeDash":[8,4]},
      "encoding":{"x":{"datum":-0.5,"type":"quantitative","scale":{"domain":[-1.27,13.97],"nice":false,"zero":false},"axis":{"values":[0,1,2,3,4,5,6,7,8,9,10,11,12,13],"labelExpr":"['dre','oni','loc','xtr','aca','gga','oan','mdo','bta','cfa','itr','mmu','mml','hsa'][datum.value]","labelAngle":-45,"labelAlign":"right","labelBaseline":"middle","labelPadding":15,"labelOffset":3,"labelFontSize":19,"title":null,"labelOverlap":false,"labelBound":false,"labelFlush":false}},"x2":{"datum":13.5},"y":{"field":"m","type":"quantitative","scale":{"domain":[-570,12020],"nice":false,"zero":false},"axis":{"values":[0,2000,4000,6000,8000,10000],"format":"d","title":null,"minExtent":60,"maxExtent":60}}}}
    ]}
  ],"spacing":16}
 ],"spacing":25},
 {"width":1100,"height":77,"view":{"stroke":null},"data":{"name":"cap"},
  "layer":[
   {"transform":[{"filter":"datum.k=='b'"}],"mark":{"type":"text","align":"left","baseline":"middle","font":"DejaVu Sans Condensed, Liberation Sans","fontSize":18.9,"fontWeight":"bold","color":"#222","dx":-141},
    "encoding":{"x":{"value":0},"y":{"field":"ln","type":"ordinal","axis":null,"scale":{"type":"point","padding":0.5}},"text":{"field":"t"}}},
   {"transform":[{"filter":"datum.k=='r'"}],"mark":{"type":"text","align":"left","baseline":"middle","font":"DejaVu Sans Condensed, Liberation Sans","fontSize":18.9,"color":"#222","dx":-81},
    "encoding":{"x":{"value":0},"y":{"field":"ln","type":"ordinal","axis":null,"scale":{"type":"point","padding":0.5}},"text":{"field":"t"}}},
   {"transform":[{"filter":"datum.k=='n'"}],"mark":{"type":"text","align":"left","baseline":"middle","font":"DejaVu Sans Condensed, Liberation Sans","fontSize":18.9,"color":"#222","dx":-141},
    "encoding":{"x":{"value":0},"y":{"field":"ln","type":"ordinal","axis":null,"scale":{"type":"point","padding":0.5}},"text":{"field":"t"}}}
  ]}
],
"spacing":17
}
